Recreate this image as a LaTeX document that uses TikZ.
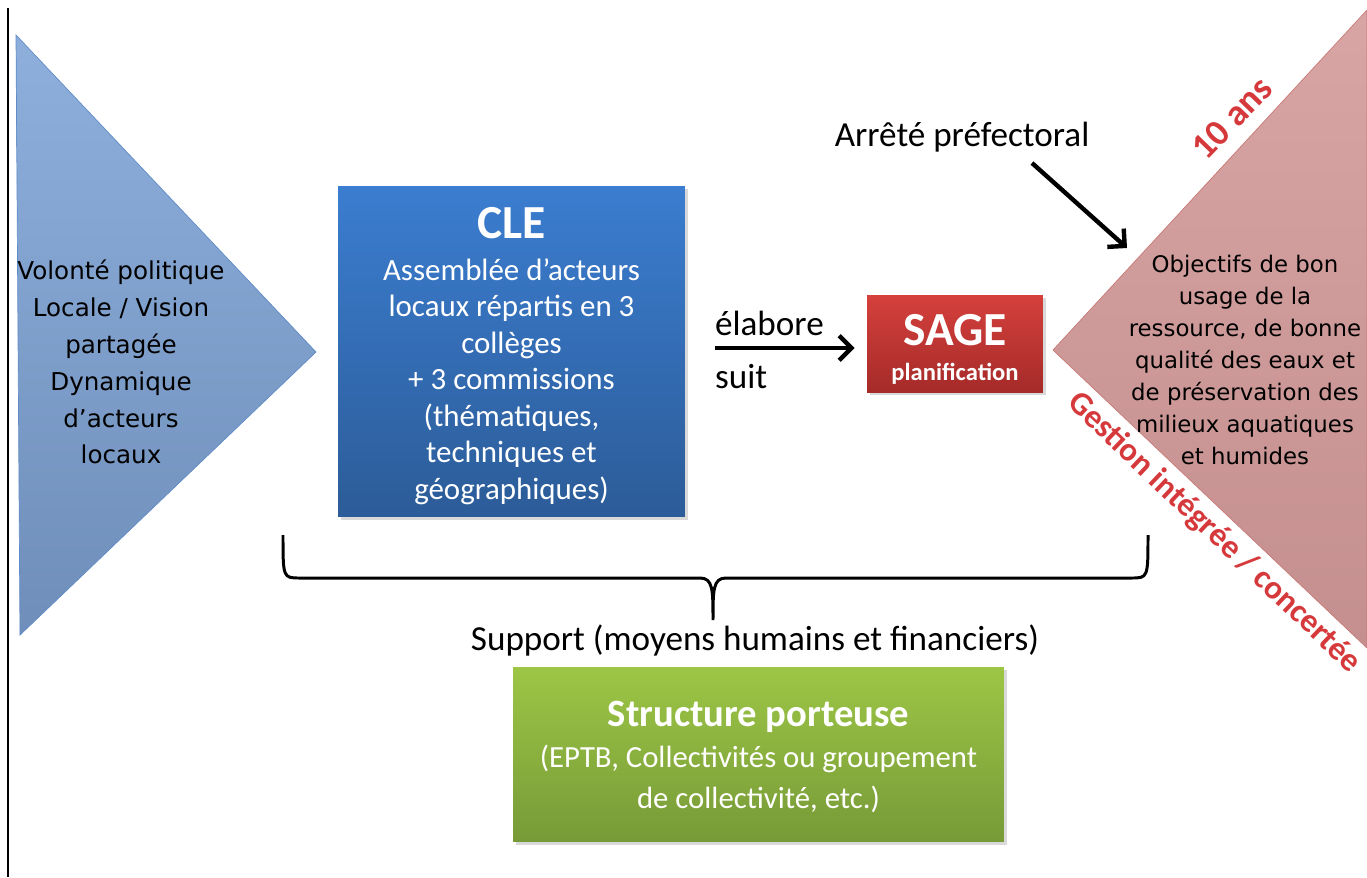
\documentclass[tikz,border=0pt]{standalone}
\usepackage{fontspec}
\setmainfont{Carlito}
\newfontfamily\verdfont{DejaVu Sans}
\usetikzlibrary{arrows.meta,shadows}
\definecolor{bleuclair}{HTML}{8EAFDC}
\definecolor{bleufonce}{HTML}{6F8EBA}
\definecolor{bleutrait}{HTML}{5F8CC9}
\definecolor{bleuhaut}{HTML}{3B7DD0}
\definecolor{bleubas}{HTML}{2C5C98}
\definecolor{rougehaut}{HTML}{D5403C}
\definecolor{rougebas}{HTML}{A52B29}
\definecolor{roseclair}{HTML}{D8A5A4}
\definecolor{rosefonce}{HTML}{C48F8E}
\definecolor{rosetrait}{HTML}{C97A78}
\definecolor{verthaut}{HTML}{9DC645}
\definecolor{vertbas}{HTML}{779A38}
\definecolor{rougetxt}{HTML}{D6393B}
\newcommand{\taille}[2]{\fontsize{#1}{#2}\selectfont}
\tikzset{
  boite/.style = {align=center, inner sep=0pt, text=white,
                  drop shadow={shadow xshift=1.5pt, shadow yshift=-1.5pt, opacity=0.3}},
  texte boite/.style = {align=center, text=white, inner sep=0pt},
  texte tri/.style = {align=center, inner sep=0pt},
  texte noir/.style = {font=\taille{20}{24}, inner sep=1pt},
  fleche/.style = {line width=2.5pt, -{Straight Barb[length=7pt,width=14pt]}},
  accolade/.style = {line width=1.7pt},
  titre rouge/.style = {text=rougetxt, inner sep=0pt, font=\bfseries}
}

\begin{document}
\begin{tikzpicture}[x=0.02cm,y=-0.02cm]
\useasboundingbox (0,0) rectangle (1367,877);
% trait vertical
\draw[line width=0.8pt] (8,8) -- (8,877);
% triangle de gauche
\coordinate (g1) at (16,35);
\coordinate (g2) at (316,352);
\coordinate (g3) at (20,635);
\path[draw=bleutrait, top color=bleuclair, bottom color=bleufonce] (g1) -- (g2) -- (g3) -- cycle;
\node[texte tri, font=\verdfont\taille{14}{21}] (volonte) at (121,362)
  {Volonté politique\\Locale / Vision\\partagée\\Dynamique\\d’acteurs\\locaux};
% triangle de droite
\coordinate (d1) at (1053,350);
\coordinate (d2) at (1367,10);
\coordinate (d3) at (1367,648);
\path[draw=rosetrait, top color=roseclair, bottom color=rosefonce] (d1) -- (d2) -- (d3) -- cycle;
\node[texte tri, font=\verdfont\taille{13}{18.2}] (objectifs) at (1245,360)
  {Objectifs de bon\\usage de la\\ressource, de bonne\\qualité des eaux et\\de préservation des\\milieux aquatiques\\et humides};
\node[titre rouge, rotate=46, font=\taille{21}{24}\bfseries] (duree) at (1232,118) {10 ans};
\node[titre rouge, rotate=-43.5, font=\taille{18.8}{22}\bfseries] (gestion) at (1214,533) {Gestion intégrée / concertée};
% boites
\node[boite, minimum width=6.94cm, minimum height=6.62cm,
      top color=bleuhaut, bottom color=bleubas] (cle) at (511.5,351.5) {};
\node[texte boite, font=\taille{17.6}{20.8}] (cle-texte) at (511.5,356)
  {{\taille{27}{30}\bfseries CLE}\\[3pt]
   Assemblée d’acteurs\\locaux répartis en 3\\collèges\\+ 3 commissions\\(thématiques,\\techniques et\\géographiques)};
\node[boite, minimum width=3.52cm, minimum height=1.94cm,
      top color=rougehaut, bottom color=rougebas] (sage) at (955,343.5) {};
\node[texte boite] (sage-texte) at (955,349)
  {{\taille{27}{28}\bfseries SAGE}\\[8pt]{\taille{14}{16}\bfseries planification}};
\node[boite, minimum width=9.82cm, minimum height=3.5cm,
      top color=verthaut, bottom color=vertbas] (structure) at (758.5,754.5) {};
\node[texte boite, font=\taille{17.5}{23.5}] (structure-texte) at (758.5,757)
  {{\taille{22}{26}\bfseries Structure porteuse}\\
   (EPTB, Collectivités ou groupement\\de collectivité, etc.)};
% textes et fleches
\node[texte noir, anchor=west] (elabore) at (713,323) {élabore};
\node[texte noir, anchor=west] (suit) at (713,377) {suit};
\coordinate (depart) at (715,348);
\draw[fleche, shorten >=0.24cm] (depart) -- (depart -| sage.west);
\node[texte noir] (arrete) at (962,137) {Arrêté préfectoral};
\coordinate (arr-debut) at (1032,163);
\coordinate (arr-fin) at (1127,248);
\draw[fleche] (arr-debut) -- (arr-fin);
% accolade
\coordinate (acc-g) at (283,535);
\coordinate (acc-m) at (713,620);
\coordinate (acc-d) at (1148,535);
\draw[accolade] (acc-g) .. controls (283,578) and (283,578) .. (300,578)
  -- (700,578) .. controls (713,578) and (713,590) .. (acc-m)
  .. controls (713,590) and (713,578) .. (726,578)
  -- (1131,578) .. controls (1148,578) and (1148,578) .. (acc-d);
\node[texte noir] (support) at (755,640) {Support (moyens humains et financiers)};
\end{tikzpicture}
\end{document}
